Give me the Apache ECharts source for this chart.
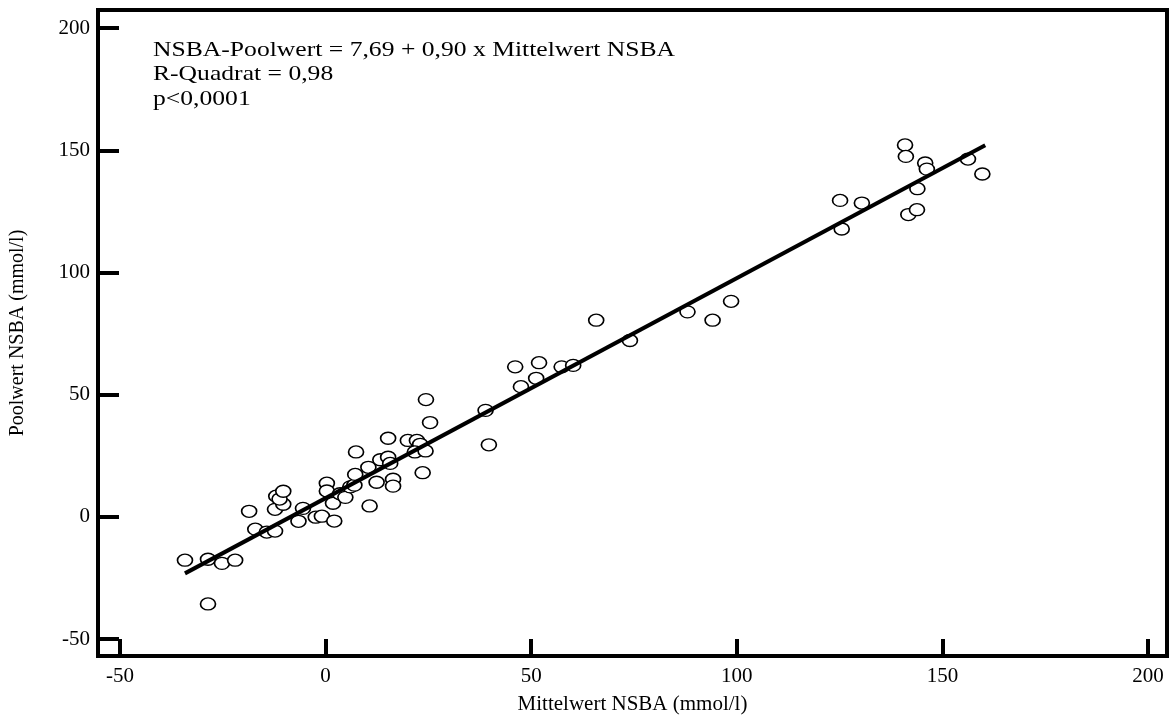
<!DOCTYPE html>
<html>
<head>
<meta charset="utf-8">
<script src="https://cdn.jsdelivr.net/npm/echarts@6/dist/echarts.min.js"></script>
<style>
  html, body { margin: 0; padding: 0; background: #fff; }
  #chart { width: 1176px; height: 720px; }
</style>
</head>
<body>
<div id="chart"></div>
<script>
// Mean NSBA (x) and pooled NSBA (y), mmol/l, one entry per sample
const meanNsba = [-34.2,-28.6,-25.2,-22.0,-28.6,-18.6,-17.1,-14.3,-12.3,-12.3,
  -10.3,-12.0,-11.2,-10.3,-6.6,-5.5,-2.4,-0.9,0.3,0.3,
  1.8,2.1,3.5,4.8,6.0,7.0,7.4,7.2,10.4,10.7,
  12.4,13.3,15.2,15.7,15.2,16.4,16.4,20.0,22.2,23.0,
  21.7,24.3,23.6,24.4,25.4,38.9,39.7,46.1,47.5,51.2,
  51.9,57.4,60.2,65.8,74.0,88.0,94.1,98.6,125.1,125.5,
  130.4,140.9,141.1,141.7,143.8,143.9,145.8,146.2,156.2,159.7];
const poolNsba = [-17.7,-17.3,-19.0,-17.7,-35.6,2.3,-5.0,-6.2,-5.8,3.1,
  5.2,8.5,7.3,10.5,-1.8,3.5,-0.1,0.3,13.8,10.6,
  5.6,-1.7,9.5,8.0,12.3,13.0,26.6,17.4,20.3,4.5,
  14.2,23.4,24.4,21.9,32.2,15.4,12.6,31.3,31.3,29.7,
  26.6,27.0,18.1,48.0,38.6,43.6,29.5,61.4,53.3,56.7,
  63.1,61.4,62.0,80.5,72.2,83.9,80.5,88.2,129.5,117.8,
  128.4,152.2,147.5,123.7,125.7,134.3,144.8,142.3,146.4,140.3];

// Regression: pool = intercept + slope * mean, drawn over the fitted x range
const intercept = 7.69;
const slope = 0.90;
const fitRange = [-34.2, 160.4];

const xTicks = [-50, 0, 50, 100, 150, 200];
const yTicks = [-50, 0, 50, 100, 150, 200];

const statLines = [
  'NSBA-Poolwert = 7,69 + 0,90 x Mittelwert NSBA',
  'R-Quadrat = 0,98',
  'p<0,0001'
];

const FONT = '"Liberation Serif", "Times New Roman", serif';

const points = meanNsba.map((x, i) => [x, poolNsba[i]]);
const fitLine = fitRange.map(x => [x, intercept + slope * x]);

const chart = echarts.init(document.getElementById('chart'));
chart.setOption({
  animation: false,
  backgroundColor: '#fff',
  grid: {
    left: 98, right: 9, top: 10, bottom: 63,
    show: true, borderColor: '#000', borderWidth: 4, backgroundColor: 'transparent'
  },
  xAxis: {
    type: 'value',
    min: -55.35, max: 204.6,
    axisLine: { show: true, onZero: false, lineStyle: { color: '#000', width: 4 } },
    splitLine: { show: false },
    axisTick: {
      show: true, inside: true, length: 17, customValues: xTicks,
      lineStyle: { color: '#000', width: 4 }
    },
    axisLabel: {
      customValues: xTicks, margin: 10, color: '#000',
      fontFamily: FONT, fontSize: 21
    },
    name: 'Mittelwert NSBA (mmol/l)',
    nameLocation: 'middle',
    nameGap: 38,
    nameTextStyle: { color: '#000', fontFamily: FONT, fontSize: 21 }
  },
  yAxis: {
    type: 'value',
    min: -56.9, max: 207.4,
    axisLine: { show: true, onZero: false, lineStyle: { color: '#000', width: 4 } },
    splitLine: { show: false },
    axisTick: {
      show: true, inside: true, length: 21, customValues: yTicks,
      lineStyle: { color: '#000', width: 4 }
    },
    axisLabel: {
      customValues: yTicks, margin: 8, color: '#000',
      fontFamily: FONT, fontSize: 21
    },
    name: 'Poolwert NSBA (mmol/l)',
    nameLocation: 'middle',
    nameGap: 70,
    nameTextStyle: { color: '#000', fontFamily: FONT, fontSize: 20 }
  },
  graphic: statLines.map((t, i) => ({
    type: 'text',
    x: 153, y: 50 + i * 24.5,
    scaleX: 1.22,
    style: {
      text: t, fill: '#000', font: '21px ' + FONT,
      align: 'left', verticalAlign: 'middle'
    }
  })),
  series: [
    {
      type: 'scatter',
      data: points,
      symbol: 'circle',
      symbolSize: [15, 12],
      itemStyle: { color: '#fff', borderColor: '#000', borderWidth: 1.5, opacity: 1 },
      z: 2
    },
    {
      type: 'line',
      data: fitLine,
      symbol: 'none',
      lineStyle: { color: '#000', width: 4 },
      z: 3
    }
  ]
});
</script>
</body>
</html>
